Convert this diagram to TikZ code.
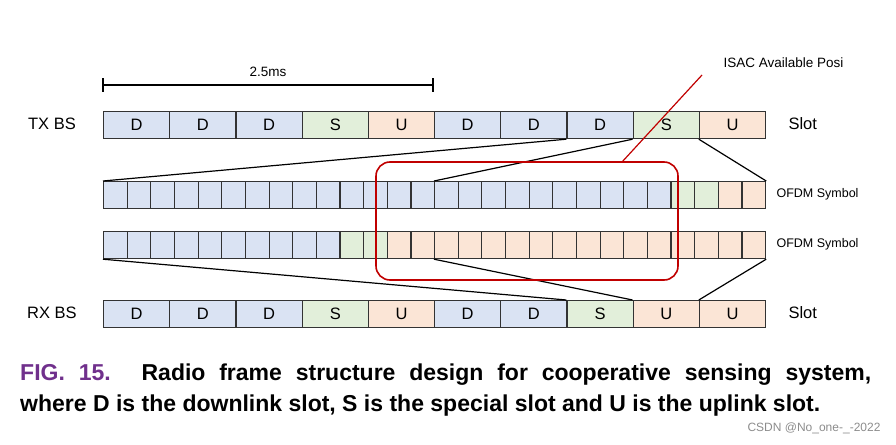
\documentclass[tikz,border=0pt]{standalone}
\usepackage{fontspec}
\setmainfont{Liberation Sans}
\begin{document}
\begin{tikzpicture}[x=1pt,y=-1pt,
 cell/.style={draw=black!80,line width=1.2pt,minimum width=#1,minimum height=27pt,inner sep=0pt,anchor=north west,font=\fontsize{16.5}{18}\selectfont},
 cD/.style={fill={rgb,255:red,218;green,227;blue,243}},
 cS/.style={fill={rgb,255:red,226;green,239;blue,218}},
 cU/.style={fill={rgb,255:red,251;green,229;blue,214}},
 lab/.style={font=\fontsize{16.5}{18}\selectfont},
 sm/.style={font=\fontsize{12.5}{14}\selectfont},
 ln/.style={line width=1.2pt}]
\useasboundingbox (0,0) rectangle (896,444);
\def\sw{66.2}\def\cw{23.643}
\foreach \t [count=\i from 0] in {D,D,D,S,U,D,D,D,S,U}{
 \node[cell=\sw pt,c\t] (t\i) at (103+\i*\sw,111) {\t};}
\foreach \t [count=\i from 0] in {D,D,D,S,U,D,D,S,U,U}{
 \node[cell=\sw pt,c\t] (r\i) at (103+\i*\sw,300) {\t};}
\foreach \i in {0,...,27}{
 \ifnum\i<24 \def\cc{cD}\else\ifnum\i<26 \def\cc{cS}\else\def\cc{cU}\fi\fi
 \node[cell=\cw pt,style=\cc] (a\i) at (103+\i*\cw,181) {};
 \ifnum\i<10 \def\cc{cD}\else\ifnum\i<12 \def\cc{cS}\else\def\cc{cU}\fi\fi
 \node[cell=\cw pt,style=\cc] (b\i) at (103+\i*\cw,231) {};}
\draw[ln] (a0.north west) -- (t7.south west);
\draw[ln] (a14.north west) -- (t8.south west);
\draw[ln] (a27.north east) -- (t9.south west);
\draw[ln] (b0.south west) -- (r7.north west);
\draw[ln] (b14.south west) -- (r8.north west);
\draw[ln] (b27.south east) -- (r9.north west);
\node[lab] (tx) at (52,124) {TX BS};
\node[lab] (rx) at (52,313) {RX BS};
\node[lab,anchor=west] (s1) at (785,124) {Slot};
\node[lab,anchor=west] (s2) at (785,313) {Slot};
\node[sm,anchor=west] (o1) at (773,194) {OFDM Symbol};
\node[sm,anchor=west] (o2) at (773,244) {OFDM Symbol};
\coordinate (m0) at (103,85); \coordinate (m1) at (433,85);
\draw[ln] (m0) -- (m1);
\draw[ln] (103,78) -- (103,92) (433,78) -- (433,92);
\node[font=\fontsize{13.5}{15}\selectfont] (ms) at (268,72) {2.5ms};
\draw[line width=1.6pt,draw={rgb,255:red,192;green,0;blue,0},rounded corners=14pt] (376,162) rectangle (678,280);
\node[font=\fontsize{13.5}{15}\selectfont,anchor=west] (isac) at (720,63) {ISAC Available Posi};
\coordinate (ip) at (702,75);
\draw[line width=1.2pt,draw={rgb,255:red,192;green,0;blue,0}] (622,162) -- (ip);
\node[anchor=west,font=\fontsize{23}{26}\selectfont\bfseries,inner sep=0pt] (c1) at (20,375) {\makebox[851pt][s]{\textcolor[RGB]{112,48,140}{FIG. 15.} Radio frame structure design for cooperative sensing system,}};
\node[anchor=west,font=\fontsize{23}{26}\selectfont\bfseries,inner sep=0pt] (c2) at (20,406) {where D is the downlink slot, S is the special slot and U is the uplink slot.};
\node[anchor=east,font=\fontsize{12}{14}\selectfont,text=black!45] (wm) at (884,428) {CSDN @No\_one-\_-2022};
\end{tikzpicture}
\end{document}
